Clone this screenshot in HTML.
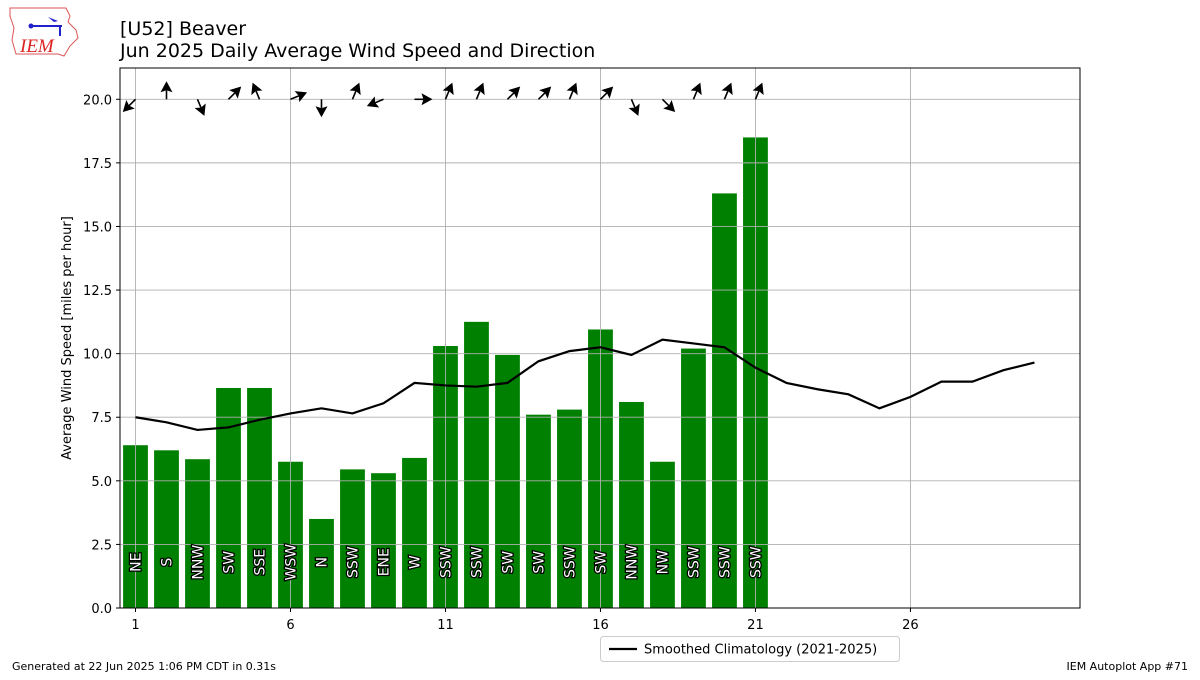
<!DOCTYPE html>
<html><head><meta charset="utf-8"><style>
body{margin:0;background:#fff;width:1200px;height:675px;overflow:hidden;font-family:"Liberation Sans","DejaVu Sans",sans-serif}
</style></head><body>
<svg id="chart" width="1200" height="675" xmlns="http://www.w3.org/2000/svg" font-family="DejaVu Sans, Liberation Sans, sans-serif">
<g>
<path d="M10,8 L66,8 L70,16 L68,22 L76,30 L78,38 L70,46 L64,56 L58,54 L16,54 L12,40 L14,28 L10,16 Z" fill="none" stroke="#d55" stroke-width="1"/>
<line x1="30" y1="26" x2="62" y2="26" stroke="#22c" stroke-width="2"/>
<circle cx="31" cy="26" r="2.5" fill="#22c"/>
<path d="M48,17 L58,21 L54,22 Z" fill="#22c"/>
<line x1="60" y1="26" x2="60" y2="36" stroke="#22c" stroke-width="2"/>
<text x="20" y="52" font-family="Liberation Serif, serif" font-style="italic" font-size="19" fill="#d22">IEM</text>
</g>
<text x="120" y="35" font-size="19" fill="#000">[U52] Beaver</text>
<text x="120" y="57" font-size="19" fill="#000">Jun 2025 Daily Average Wind Speed and Direction</text>
<g id="plot"></g>
<text transform="translate(71,338) rotate(-90)" text-anchor="middle" font-size="13">Average Wind Speed [miles per hour]</text>
<g>
<rect x="600.5" y="636.5" width="299" height="25" rx="3" fill="#fff" stroke="#ccc"/>
<line x1="609" y1="649" x2="637" y2="649" stroke="#000" stroke-width="2.2"/>
<text x="644" y="653.5" font-size="13">Smoothed Climatology (2021-2025)</text>
</g>
<text x="12" y="670" font-size="11">Generated at 22 Jun 2025 1:06 PM CDT in 0.31s</text>
<text x="1188" y="670" font-size="11" text-anchor="end">IEM Autoplot App #71</text>
</svg>
<script>
const days=[1,2,3,4,5,6,7,8,9,10,11,12,13,14,15,16,17,18,19,20,21];
const speeds=[6.4,6.2,5.85,8.65,8.65,5.75,3.5,5.45,5.3,5.9,10.3,11.25,9.95,7.6,7.8,10.95,8.1,5.75,10.2,16.3,18.5];
const dirs=["NE","S","NNW","SW","SSE","WSW","N","SSW","ENE","W","SSW","SSW","SW","SW","SSW","SW","NNW","NW","SSW","SSW","SSW"];
const climDays=[1,2,3,4,5,6,7,8,9,10,11,12,13,14,15,16,17,18,19,20,21,22,23,24,25,26,27,28,29,30];
const climVals=[7.5,7.3,7.0,7.1,7.4,7.65,7.85,7.65,8.05,8.85,8.75,8.7,8.85,9.7,10.1,10.25,9.95,10.55,10.4,10.25,9.45,8.85,8.6,8.4,7.85,8.3,8.9,8.9,9.35,9.65];
const yTicks=[0,2.5,5,7.5,10,12.5,15,17.5,20];
const xTicks=[1,6,11,16,21,26];
const X0=120,X1=1080,Y0=68,Y1=608,xmin=0.5,xmax=31.47,ymin=0,ymax=21.23;
const xs=d=>X0+(d-xmin)/(xmax-xmin)*(X1-X0);
const ys=v=>Y1-(v-ymin)/(ymax-ymin)*(Y1-Y0);
const NS="http://www.w3.org/2000/svg";
const plot=document.getElementById('plot');
function mk(t,a,p){const e=document.createElementNS(NS,t);for(const k in a)e.setAttribute(k,a[k]);(p||plot).appendChild(e);return e;}
const compass={N:0,NNE:22.5,NE:45,ENE:67.5,E:90,ESE:112.5,SE:135,SSE:157.5,S:180,SSW:202.5,SW:225,WSW:247.5,W:270,WNW:292.5,NW:315,NNW:337.5};
const bw=(xs(1.8)-xs(1));
days.forEach((d,i)=>{
 const r=mk('rect',{x:xs(d)-bw/2,y:ys(speeds[i]),width:bw,height:Y1-ys(speeds[i]),fill:'#008000'});
 
 
});
yTicks.forEach(v=>{const l=mk('line',{x1:X0,x2:X1,y1:ys(v),y2:ys(v),stroke:'#b0b0b0','stroke-width':0.9});
 
 
 const t=mk('text',{x:X0-8,y:ys(v)+5,'text-anchor':'end','font-size':13});t.textContent=v.toFixed(1);
 
 
 mk('line',{x1:X0-4,x2:X0,y1:ys(v),y2:ys(v),stroke:'#000'});});
xTicks.forEach(v=>{const l=mk('line',{x1:xs(v),x2:xs(v),y1:Y0,y2:Y1,stroke:'#b0b0b0','stroke-width':0.9});
 
 
 const t=mk('text',{x:xs(v),y:Y1+21,'text-anchor':'middle','font-size':13});t.textContent=v;
 
 
 mk('line',{x1:xs(v),x2:xs(v),y1:Y1,y2:Y1+4,stroke:'#000'});});
days.forEach((d,i)=>{
 const t=mk('text',{transform:`translate(${xs(d)+5},${ys(1.8)}) rotate(-90)`,'text-anchor':'middle','font-size':14,fill:'#fff',stroke:'#000','stroke-width':2.5,'paint-order':'stroke'});
 t.textContent=dirs[i];
 
 
});
days.forEach((d,i)=>{
 const a=(compass[dirs[i]]+180)*Math.PI/180;
 const dx=Math.sin(a),dy=-Math.cos(a);
 const x0=xs(d),y0=ys(20),L=18;
 const x1=x0+dx*L,y1=y0+dy*L;
 const g=mk('g',{});
 
 
 mk('line',{x1:x0,y1:y0,x2:x0+dx*(L-9),y2:y0+dy*(L-9),stroke:'#000','stroke-width':1.6},g);
 const px=-dy,py=dx,bx=x0+dx*(L-11),by=y0+dy*(L-11);
 mk('polygon',{points:`${x1},${y1} ${bx+px*6},${by+py*6} ${x0+dx*(L-9)},${y0+dy*(L-9)} ${bx-px*6},${by-py*6}`,fill:'#000'},g);
});
const pl=mk('polyline',{points:climDays.map((d,i)=>xs(d)+','+ys(climVals[i])).join(' '),fill:'none',stroke:'#000','stroke-width':2.2});


const fr=mk('rect',{x:X0,y:Y0,width:X1-X0,height:Y1-Y0,fill:'none',stroke:'#000','stroke-width':1});


</script>
</body></html>
